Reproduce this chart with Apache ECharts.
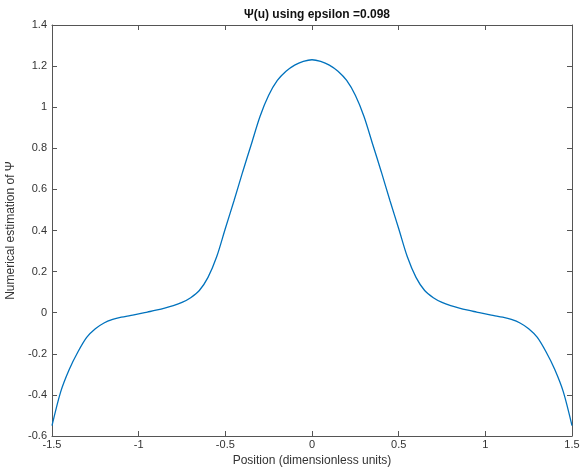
<!DOCTYPE html>
<html>
<head>
<meta charset="utf-8">
<script src="https://cdn.jsdelivr.net/npm/echarts@6/dist/echarts.min.js"></script>
<style>
  html, body { margin: 0; padding: 0; background: #fff; }
  #chart { width: 580px; height: 467px; }
</style>
</head>
<body>
<div id="chart"></div>
<script>
/* 标题与坐标轴文字 */
var titleText = 'Ψ(u) using epsilon =0.098';
var xLabel = 'Position (dimensionless units)';
var yLabel = 'Numerical estimation of Ψ';

/* 位置 u */
var posU = [
  -1.5, -1.45, -1.4, -1.35, -1.3, -1.25, -1.2, -1.15, -1.1, -1.05,
  -1.0, -0.95, -0.9, -0.85, -0.8, -0.75, -0.7, -0.65, -0.6, -0.55,
  -0.5, -0.45, -0.4, -0.35, -0.3, -0.25, -0.2, -0.15, -0.1, -0.05,
  0,
  0.05, 0.1, 0.15, 0.2, 0.25, 0.3, 0.35, 0.4, 0.45, 0.5,
  0.55, 0.6, 0.65, 0.7, 0.75, 0.8, 0.85, 0.9, 0.95, 1.0,
  1.05, 1.1, 1.15, 1.2, 1.25, 1.3, 1.35, 1.4, 1.45, 1.5
];

/* Ψ 数值估计 */
var psiVal = [
  -0.55, -0.385, -0.275, -0.19, -0.12, -0.078, -0.05, -0.033, -0.022, -0.014,
  -0.006, 0.003, 0.012, 0.022, 0.034, 0.05, 0.073, 0.108, 0.172, 0.272,
  0.41, 0.545, 0.685, 0.82, 0.955, 1.058, 1.13, 1.175, 1.205, 1.223,
  1.231,
  1.223, 1.205, 1.175, 1.13, 1.058, 0.955, 0.82, 0.685, 0.545, 0.41,
  0.272, 0.172, 0.108, 0.073, 0.05, 0.034, 0.022, 0.012, 0.003, -0.006,
  -0.014, -0.022, -0.033, -0.05, -0.078, -0.12, -0.19, -0.275, -0.385, -0.55
];

var seriesData = posU.map(function (u, i) { return [u, psiVal[i]]; });

var axisColor = '#555';
var textColor = '#333';
var fontFam = 'Liberation Sans, Arial, sans-serif';

var chart = echarts.init(document.getElementById('chart'));

function boxAxis(pos, min, max, step, showLabel) {
  return {
    type: 'value',
    position: pos,
    min: min, max: max, interval: step,
    splitLine: { show: false },
    axisLine: { show: true, onZero: false, lineStyle: { color: axisColor, width: 1 } },
    axisTick: { show: true, inside: true, length: 5, lineStyle: { color: axisColor } },
    axisLabel: { show: showLabel, color: textColor, fontSize: 11, fontFamily: fontFam, margin: 5 }
  };
}

var xMain = boxAxis('bottom', -1.5, 1.5, 0.5, true);
xMain.name = xLabel;
xMain.nameLocation = 'middle';
xMain.nameGap = 18;
xMain.nameTextStyle = { color: textColor, fontSize: 12, fontFamily: fontFam };
xMain.axisLabel.margin = 3;

var yMain = boxAxis('left', -0.6, 1.4, 0.2, true);
yMain.name = yLabel;
yMain.nameLocation = 'middle';
yMain.nameGap = 32;
yMain.nameTextStyle = { color: textColor, fontSize: 12, fontFamily: fontFam };

chart.setOption({
  backgroundColor: '#fff',
  animation: false,
  title: {
    text: titleText,
    left: 312, top: 4, textAlign: 'center',
    textStyle: { color: '#111', fontSize: 12, fontWeight: 'bold', fontFamily: fontFam }
  },
  grid: { left: 52, right: 8, top: 25, bottom: 31, outerBoundsMode: 'none', containLabel: false },
  xAxis: [xMain, boxAxis('top', -1.5, 1.5, 0.5, false)],
  yAxis: [yMain, boxAxis('right', -0.6, 1.4, 0.2, false)],
  series: [{
    type: 'line',
    xAxisIndex: 0, yAxisIndex: 0,
    data: seriesData,
    smooth: 0.3,
    showSymbol: false,
    lineStyle: { color: '#0072BD', width: 1.3 }
  }]
});
</script>
</body>
</html>
